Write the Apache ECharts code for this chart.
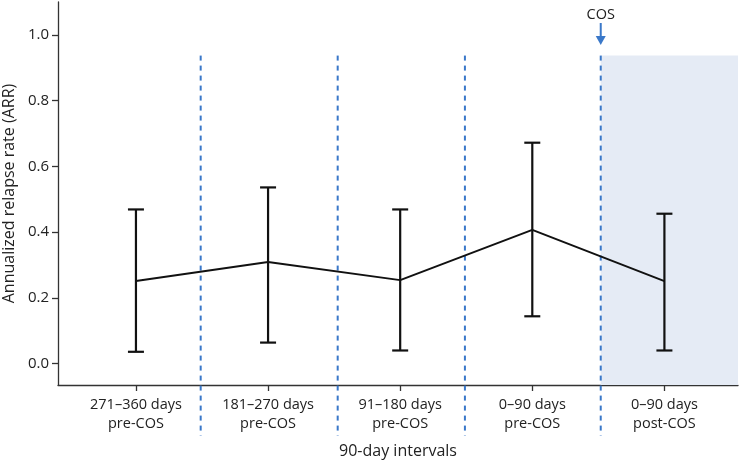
<!DOCTYPE html>
<html>
<head>
<meta charset="utf-8">
<script src="https://cdn.jsdelivr.net/npm/echarts@6/dist/echarts.min.js"></script>
<style>html,body{margin:0;padding:0;background:#fff}#c{width:740px;height:462px}</style>
</head>
<body>
<div id="c"></div>
<script>
var categories = ['271\u2013360 days\npre-COS', '181\u2013270 days\npre-COS', '91\u2013180 days\npre-COS', '0\u201390 days\npre-COS', '0\u201390 days\npost-COS'];
var arrMean  = [0.251, 0.309, 0.254, 0.407, 0.251];
var arrLower = [0.036, 0.064, 0.040, 0.144, 0.040];
var arrUpper = [0.469, 0.536, 0.469, 0.672, 0.456];
var dividers = [0.49, 1.527, 2.49, 3.518];
var dividerTop = 0.937;
var yTicks = [0, 0.2, 0.4, 0.6, 0.8, 1.0];
var cosPosition = 3.518;
var cosLabel = 'COS';

var FONT = '"Open Sans", "Noto Sans", sans-serif';
var X_MIN = -0.59, X_MAX = 4.557, Y_MIN = -0.065, Y_MAX = 1.1;

var meanData = arrMean.map(function (v, i) { return [i, v]; });
var errData = arrMean.map(function (v, i) { return [i, arrLower[i], arrUpper[i]]; });
var divData = dividers.map(function (x) { return [x, dividerTop]; });

var chart = echarts.init(document.getElementById('c'));
chart.setOption({
  animation: false,
  grid: { left: 58, right: 2, top: 2, bottom: 77, containLabel: false, outerBoundsMode: 'none' },
  xAxis: {
    type: 'value', min: X_MIN, max: X_MAX,
    splitLine: { show: false },
    axisLine: { show: true, onZero: false, lineStyle: { color: '#333', width: 1.3 } },
    axisTick: { show: true, length: 6, customValues: [0, 1, 2, 3, 4], lineStyle: { color: '#333', width: 1.3 } },
    axisLabel: {
      customValues: [0, 1, 2, 3, 4],
      formatter: function (v) { return categories[Math.round(v)] || ''; },
      color: '#222', fontFamily: FONT, fontSize: 14.5, lineHeight: 19, margin: 10
    },
    name: '90-day intervals', nameLocation: 'middle', nameGap: 58,
    nameTextStyle: { color: '#222', fontFamily: FONT, fontSize: 16 }
  },
  yAxis: {
    type: 'value', min: Y_MIN, max: Y_MAX,
    splitLine: { show: false },
    axisLine: { show: true, onZero: false, lineStyle: { color: '#333', width: 1.3 } },
    axisTick: { show: true, length: 6, customValues: yTicks, lineStyle: { color: '#333', width: 1.3 } },
    axisLabel: {
      customValues: yTicks,
      formatter: function (v) { return v.toFixed(1); },
      color: '#222', fontFamily: FONT, fontSize: 15, margin: 9
    },
    name: 'Annualized relapse rate (ARR)', nameLocation: 'middle', nameGap: 38,
    nameTextStyle: { color: '#222', fontFamily: FONT, fontSize: 16 }
  },
  series: [
    {
      type: 'custom', name: 'shade', z: 1, silent: true,
      data: [[cosPosition, dividerTop]],
      renderItem: function (params, api) {
        var p0 = api.coord([api.value(0), api.value(1)]);
        var p1 = api.coord([X_MAX, Y_MIN]);
        return { type: 'rect', shape: { x: p0[0], y: p0[1], width: p1[0] - p0[0], height: p1[1] - p0[1] },
          style: { fill: '#e5ebf5' } };
      }
    },
    {
      type: 'custom', name: 'dividers', z: 3, silent: true, clip: false,
      data: divData,
      renderItem: function (params, api) {
        var p0 = api.coord([api.value(0), api.value(1)]);
        var p1 = api.coord([api.value(0), Y_MIN]);
        return { type: 'line', shape: { x1: p0[0], y1: p0[1], x2: p0[0], y2: p1[1] + 51 },
          style: { stroke: '#3a78c9', lineWidth: 2, lineDash: [5, 5] } };
      }
    },
    {
      type: 'custom', name: 'cosArrow', z: 4, silent: true, clip: false,
      data: [[cosPosition, Y_MAX]],
      renderItem: function (params, api) {
        var p = api.coord([api.value(0), api.value(1)]);
        var x = p[0], y = p[1];
        return { type: 'group', children: [
          { type: 'text', style: { text: cosLabel, x: x, y: y + 13, align: 'center', verticalAlign: 'middle',
              fill: '#222', font: '14.5px ' + FONT } },
          { type: 'line', shape: { x1: x, y1: y + 21, x2: x, y2: y + 36 }, style: { stroke: '#3a78c9', lineWidth: 2 } },
          { type: 'polygon', shape: { points: [[x - 5, y + 34], [x + 5, y + 34], [x, y + 43]] }, style: { fill: '#3a78c9' } }
        ] };
      }
    },
    {
      type: 'custom', name: 'errors', z: 5, silent: true,
      data: errData,
      renderItem: function (params, api) {
        var lo = api.coord([api.value(0), api.value(1)]);
        var hi = api.coord([api.value(0), api.value(2)]);
        var w = 8, st = { stroke: '#111', lineWidth: 2.2 };
        return { type: 'group', children: [
          { type: 'line', shape: { x1: lo[0], y1: lo[1], x2: hi[0], y2: hi[1] }, style: st },
          { type: 'line', shape: { x1: lo[0] - w, y1: lo[1], x2: lo[0] + w, y2: lo[1] }, style: st },
          { type: 'line', shape: { x1: hi[0] - w, y1: hi[1], x2: hi[0] + w, y2: hi[1] }, style: st }
        ] };
      }
    },
    {
      type: 'line', name: 'ARR', z: 6, data: meanData, symbol: 'none',
      lineStyle: { color: '#111', width: 2 }
    }
  ]
});
</script>
</body>
</html>
